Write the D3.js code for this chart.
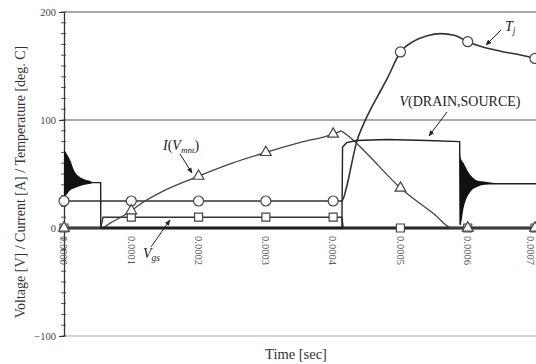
<!DOCTYPE html>
<html>
<head>
<meta charset="utf-8">
<script src="https://cdn.jsdelivr.net/npm/d3@7"></script>
<style>
  html, body { margin: 0; padding: 0; background: #fff; }
  svg { display: block; }
</style>
</head>
<body>
<div id="chart"></div>
<script>
// ── Data ──────────────────────────────────────────────────────
const markTimes = [0, 0.0001, 0.0002, 0.0003, 0.0004, 0.0005, 0.0006, 0.0007];
const xTickVals = [0, 0.0001, 0.0002, 0.0003, 0.0004, 0.0005, 0.0006, 0.0007];
const yTickVals = [-100, 0, 100, 200];

// V(DRAIN,SOURCE)
const vdsTime = [0, 0.0000545, 0.0000546, 0.000413, 0.000414, 0.00042, 0.000435, 0.00048, 0.00054, 0.000588, 0.000589, 0.00059, 0.00072];
const vdsVal  = [42, 42, 0, 0, 75, 79, 81, 82, 81, 80, 3, 41, 41];

// switching ringing (envelope of the oscillation)
const ringLTime = [0, 0.0000015, 0.000009, 0.000016, 0.000024, 0.000031, 0.000039, 0.000043];
const ringLHi   = [72, 71, 63, 52, 47, 45, 43.5, 42];
const ringLLo   = [30, 30, 35, 37, 39, 40, 41, 42];
const ringRTime = [0.000588, 0.000589, 0.000594, 0.000604, 0.000614, 0.000624, 0.000643];
const ringRHi   = [80, 66, 60, 49, 44, 43, 41.4];
const ringRLo   = [3, 3, 19, 33.6, 38, 40, 41.2];

// Tj
const tjTime  = [0, 0.000413, 0.00042, 0.000427, 0.000435, 0.000445, 0.000455, 0.000467, 0.00048, 0.0005, 0.00052, 0.00054, 0.00056, 0.00058, 0.0006, 0.00062, 0.00065, 0.00068, 0.0007, 0.00072];
const tjVal   = [25, 25, 38, 58, 80, 96, 109, 123, 138, 163, 173, 178, 180, 178.5, 172.5, 168, 163.5, 160, 157, 154];
const tjMarks = [25, 25, 25, 25, 25, 163, 172.5, 157];

// I(Vmnt)
const iTime  = [0, 0.000055, 0.00007, 0.0001, 0.000113, 0.00015, 0.0002, 0.00025, 0.0003, 0.00035, 0.0004, 0.000412, 0.000425, 0.00045, 0.0005, 0.00055, 0.000577, 0.00072];
const iVal   = [0, 0, 5, 16, 22, 35, 48, 60, 70, 79, 87, 90, 84, 69, 37, 13, 0, 0];
const iMarks = [0, 16, 48, 70, 87, 37, 0, 0];

// Vgs
const vgsTime  = [0, 0.0000545, 0.000058, 0.000413, 0.000415, 0.00072];
const vgsVal   = [0, 0, 10, 10, 0, 0];
const vgsMarks = [0, 10, 10, 10, 10, 0, 0, 0];

// ── Chart ─────────────────────────────────────────────────────
const W = 536, H = 364;
const serif = "'Liberation Serif', 'DejaVu Serif', serif";

const svg = d3.select('#chart').append('svg')
  .attr('width', W).attr('height', H);

const x = d3.scaleLinear().domain([0, 0.0007]).range([64, 535]);
const y = d3.scaleLinear().domain([-100, 200]).range([336, 12]);

svg.append('defs').append('marker')
  .attr('id', 'arr')
  .attr('viewBox', '0 0 10 10')
  .attr('refX', 9).attr('refY', 5)
  .attr('markerWidth', 6).attr('markerHeight', 6)
  .attr('markerUnits', 'userSpaceOnUse')
  .attr('orient', 'auto')
  .append('path').attr('d', 'M0,1L10,5L0,9Z').attr('fill', '#222');

// grid lines
svg.selectAll('.grid')
  .data([200, 100, -100])
  .enter().append('line')
  .attr('x1', x(0)).attr('x2', W)
  .attr('y1', d => y(d)).attr('y2', d => y(d))
  .attr('stroke', '#aaa')
  .attr('stroke-width', d => d === -100 ? 1.2 : 2);

// minor ticks on y axis
svg.selectAll('.minor')
  .data(d3.range(-100, 201, 10))
  .enter().append('line')
  .attr('x1', x(0) - 3).attr('x2', x(0) + 2)
  .attr('y1', d => y(d)).attr('y2', d => y(d))
  .attr('stroke', '#555').attr('stroke-width', 1);

// y axis
const yAxisG = svg.append('g')
  .attr('transform', `translate(${x(0)},0)`)
  .call(d3.axisLeft(y).tickValues(yTickVals).tickSize(5).tickSizeOuter(0).tickPadding(3));
yAxisG.select('path').attr('stroke', '#333').attr('stroke-width', 1.3);
yAxisG.selectAll('line').attr('stroke', '#333');
yAxisG.selectAll('text')
  .attr('font-family', serif).attr('font-size', '10.5px').attr('fill', '#444');

// x tick labels (rotated); last one kept inside the frame
svg.selectAll('.xlab')
  .data(xTickVals)
  .enter().append('text')
  .attr('transform', d => `translate(${Math.min(x(d), W - 5)},236) rotate(90)`)
  .attr('dy', '0.35em')
  .attr('font-family', serif).attr('font-size', '10.5px').attr('fill', '#555')
  .text(d => d3.format('.4f')(d));

// zero line
svg.append('line')
  .attr('x1', x(0)).attr('x2', W)
  .attr('y1', y(0)).attr('y2', y(0))
  .attr('stroke', '#111').attr('stroke-width', 3);

const line = (ts, vs, curve) => d3.line()
  .x(i => x(ts[i])).y(i => y(vs[i]))
  .curve(curve || d3.curveLinear)(d3.range(ts.length));

const area = (ts, hi, lo) => d3.area()
  .x(i => x(ts[i])).y0(i => y(lo[i])).y1(i => y(hi[i]))
  .curve(d3.curveMonotoneX)(d3.range(ts.length));

// Vgs
svg.append('path').attr('d', line(vgsTime, vgsVal))
  .attr('fill', 'none').attr('stroke', '#333').attr('stroke-width', 1.4);

// Tj
svg.append('path').attr('d', line(tjTime, tjVal, d3.curveMonotoneX))
  .attr('fill', 'none').attr('stroke', '#333').attr('stroke-width', 1.6);

// I(Vmnt) — split at the peak to keep the sharp corner
const pk = iVal.indexOf(d3.max(iVal));
svg.append('path').attr('d', line(iTime.slice(0, pk + 1), iVal.slice(0, pk + 1), d3.curveMonotoneX))
  .attr('fill', 'none').attr('stroke', '#444').attr('stroke-width', 1.3);
svg.append('path').attr('d', line(iTime.slice(pk), iVal.slice(pk), d3.curveMonotoneX))
  .attr('fill', 'none').attr('stroke', '#444').attr('stroke-width', 1.3);

// V(DRAIN,SOURCE)
svg.append('path').attr('d', line(vdsTime, vdsVal))
  .attr('fill', 'none').attr('stroke', '#222').attr('stroke-width', 1.4);
svg.append('path').attr('d', area(ringLTime, ringLHi, ringLLo)).attr('fill', '#111');
svg.append('path').attr('d', area(ringRTime, ringRHi, ringRLo)).attr('fill', '#111');

// markers
const mk = { fill: '#fff', stroke: '#444', sw: 1.2 };
svg.selectAll('.tjm').data(markTimes).enter().append('circle')
  .attr('cx', d => x(d)).attr('cy', (d, i) => y(tjMarks[i])).attr('r', 5)
  .attr('fill', mk.fill).attr('stroke', mk.stroke).attr('stroke-width', mk.sw);
svg.selectAll('.vgm').data(markTimes).enter().append('path')
  .attr('d', d3.symbol(d3.symbolSquare, 64))
  .attr('transform', (d, i) => `translate(${x(d)},${y(vgsMarks[i])})`)
  .attr('fill', mk.fill).attr('stroke', mk.stroke).attr('stroke-width', mk.sw);
svg.selectAll('.im').data(markTimes).enter().append('path')
  .attr('d', d3.symbol(d3.symbolTriangle, 50))
  .attr('transform', (d, i) => `translate(${x(d)},${y(iMarks[i])})`)
  .attr('fill', mk.fill).attr('stroke', mk.stroke).attr('stroke-width', mk.sw);

// annotations
const arrow = (x1, y1, x2, y2) => svg.append('line')
  .attr('x1', x1).attr('y1', y1).attr('x2', x2).attr('y2', y2)
  .attr('stroke', '#222').attr('stroke-width', 1).attr('marker-end', 'url(#arr)');

const lbl = svg.append('text').attr('x', 163).attr('y', 150)
  .attr('font-family', serif).attr('font-size', '14px').attr('fill', '#222');
lbl.append('tspan').attr('font-style', 'italic').text('I');
lbl.append('tspan').text('(');
lbl.append('tspan').attr('font-style', 'italic').text('V');
lbl.append('tspan').attr('font-style', 'italic').attr('font-size', '9px').attr('dy', 3).text('mnt');
lbl.append('tspan').attr('dy', -3).text(')');
arrow(180, 154, 192, 173);

const vgs = svg.append('text').attr('x', 143).attr('y', 258)
  .attr('font-family', serif).attr('font-size', '14px').attr('font-style', 'italic').attr('fill', '#222');
vgs.append('tspan').text('V');
vgs.append('tspan').attr('font-size', '9.5px').attr('dy', 3).text('gs');
arrow(151, 247, 170, 220);

const vds = svg.append('text').attr('x', 460).attr('y', 106).attr('text-anchor', 'middle')
  .attr('font-family', serif).attr('font-size', '14px').attr('fill', '#222');
vds.append('tspan').attr('font-style', 'italic').text('V');
vds.append('tspan').text('(DRAIN,SOURCE)');
arrow(447, 112, 429, 136);

const tj = svg.append('text').attr('x', 505).attr('y', 31)
  .attr('font-family', serif).attr('font-size', '14px').attr('font-style', 'italic').attr('fill', '#222');
tj.append('tspan').text('T');
tj.append('tspan').attr('font-size', '9.5px').attr('dy', 3).text('j');
arrow(501, 30, 486, 45);

// axis titles
svg.append('text')
  .attr('transform', 'translate(25,182) rotate(-90)')
  .attr('text-anchor', 'middle')
  .attr('font-family', serif).attr('font-size', '14px').attr('fill', '#333')
  .text('Voltage [V] / Current [A] / Temperature [deg. C]');

svg.append('text')
  .attr('x', 296).attr('y', 359).attr('text-anchor', 'middle')
  .attr('font-family', serif).attr('font-size', '14.5px').attr('fill', '#333')
  .text('Time [sec]');
</script>
</body>
</html>
